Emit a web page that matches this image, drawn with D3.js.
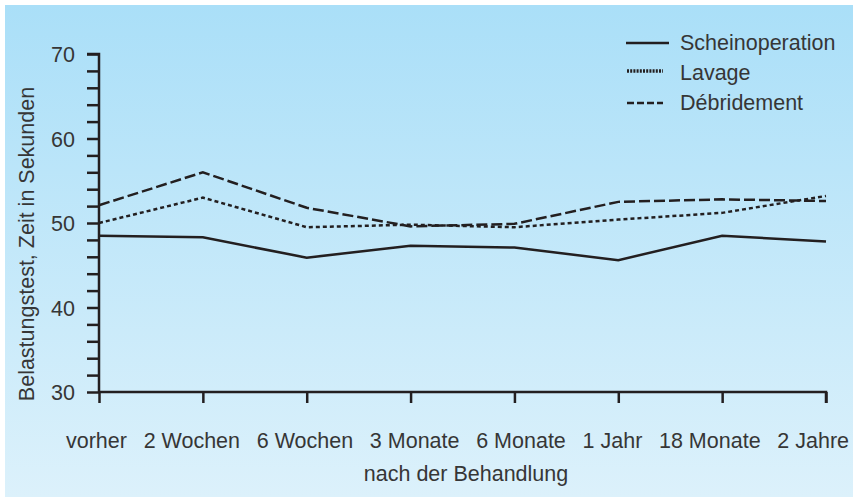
<!DOCTYPE html>
<html>
<head>
<meta charset="utf-8">
<script src="https://cdn.jsdelivr.net/npm/d3@7"></script>
<style>
  body { margin: 0; background: #fff; }
  svg { display: block; font-family: "Liberation Sans", Arial, sans-serif; }
</style>
</head>
<body>
<svg width="853" height="502"></svg>
<script>
// categories (time points)
var zeitpunkte = ["vorher", "2 Wochen", "6 Wochen", "3 Monate", "6 Monate", "1 Jahr", "18 Monate", "2 Jahre"];

// series values, seconds
var schein = [48.5, 48.3, 45.9, 47.3, 47.1, 45.6, 48.5, 47.8];
var lavage = [50.0, 53.0, 49.5, 49.8, 49.5, 50.4, 51.2, 53.2];
var debride = [52.1, 56.0, 51.8, 49.6, 49.9, 52.5, 52.8, 52.6];

var yTicks = [30, 40, 50, 60, 70];

var series = [
  {name: "Scheinoperation", values: schein, dash: null},
  {name: "Lavage", values: lavage, dash: "4,3"},
  {name: "Débridement", values: debride, dash: "11,4"}
];

var fs = 21.5,
    textCol = "#363636",
    ink = "#231f20";

var svg = d3.select("svg");

// background gradient
var grad = svg.append("defs").append("linearGradient")
    .attr("id", "bg").attr("x1", 0).attr("y1", 0).attr("x2", 0).attr("y2", 1);
grad.append("stop").attr("offset", "0%").attr("stop-color", "#aadff8");
grad.append("stop").attr("offset", "100%").attr("stop-color", "#dcf1fb");

svg.append("rect")
    .attr("x", 5).attr("y", 5)
    .attr("width", 848).attr("height", 492)
    .attr("fill", "url(#bg)");

var margin = {left: 99, top: 54},
    width = 727,
    height = 338;

var g = svg.append("g")
    .attr("transform", "translate(" + margin.left + "," + margin.top + ")");

var x = d3.scalePoint()
    .domain(zeitpunkte)
    .range([0, width]);

var y = d3.scaleLinear()
    .domain([30, 70])
    .range([height, 0]);

// y axis: minor ticks every 2
var yAxis = g.append("g")
    .call(d3.axisLeft(y).tickValues(d3.range(30, 71, 2)).tickSize(12).tickFormat(""));
yAxis.select(".domain").attr("stroke", ink).attr("stroke-width", 2.5).attr("d", "M0," + height + "V0H-12");
yAxis.selectAll(".tick line").attr("stroke", ink).attr("stroke-width", 2.5);

g.selectAll(".ylab")
    .data(yTicks)
    .enter().append("text")
    .attr("class", "ylab")
    .attr("x", -24)
    .attr("y", function(d) { return y(d); })
    .attr("dy", "0.38em")
    .attr("text-anchor", "end")
    .attr("font-size", fs)
    .attr("fill", textCol)
    .text(function(d) { return d; });

// x axis
var xAxis = g.append("g")
    .attr("transform", "translate(0," + height + ")")
    .call(d3.axisBottom(x).tickSize(11).tickFormat(""));
xAxis.select(".domain").attr("stroke", ink).attr("stroke-width", 2.5).attr("d", "M0,0H" + width + "V11");
xAxis.selectAll(".tick line").attr("stroke", ink).attr("stroke-width", 2.5);

// x labels: laid out in one row with equal gaps, like the original
var xl = g.selectAll(".xlab")
    .data(zeitpunkte)
    .enter().append("text")
    .attr("class", "xlab")
    .attr("y", height + 56)
    .attr("font-size", fs)
    .attr("fill", textCol)
    .text(function(d) { return d; });
var widths = [];
xl.each(function() { widths.push(this.getComputedTextLength()); });
var left = x(zeitpunkte[0]) - 33,
    right = x(zeitpunkte[zeitpunkte.length - 1]) + 23,
    gap = (right - left - d3.sum(widths)) / (widths.length - 1),
    pos = left;
xl.attr("x", function(d, i) { var p = pos; pos += widths[i] + gap; return p; });

// axis titles
svg.append("text")
    .attr("x", 466).attr("y", 481)
    .attr("text-anchor", "middle")
    .attr("font-size", fs)
    .attr("fill", textCol)
    .text("nach der Behandlung");

svg.append("text")
    .attr("transform", "translate(34,244) rotate(-90)")
    .attr("text-anchor", "middle")
    .attr("font-size", fs)
    .attr("fill", textCol)
    .text("Belastungstest, Zeit in Sekunden");

// lines
var line = d3.line()
    .x(function(d, i) { return x(zeitpunkte[i]); })
    .y(function(d) { return y(d); });

g.selectAll(".series")
    .data(series)
    .enter().append("path")
    .attr("class", "series")
    .attr("d", function(s) { return line(s.values); })
    .attr("fill", "none")
    .attr("stroke", ink)
    .attr("stroke-width", 2.5)
    .attr("stroke-dasharray", function(s) { return s.dash; });

// legend
var legDash = [null, "2,1.2", "7,3"];
var legLen = [43, 37, 37];
var leg = svg.append("g").attr("transform", "translate(626,43)");
var item = leg.selectAll(".leg")
    .data(series)
    .enter().append("g")
    .attr("transform", function(d, i) { return "translate(0," + (i * 30) + ")"; });
item.append("line")
    .attr("x1", function(d, i) { return i ? 1 : 0; })
    .attr("x2", function(d, i) { return legLen[i]; })
    .attr("y1", function(d, i) { return i == 1 ? -2 : 0; })
    .attr("y2", function(d, i) { return i == 1 ? -2 : 0; })
    .attr("stroke", ink)
    .attr("stroke-width", function(d, i) { return i == 1 ? 3.5 : 2.5; })
    .attr("stroke-dasharray", function(d, i) { return legDash[i]; });
item.append("text")
    .attr("x", 54)
    .attr("y", 7)
    .attr("font-size", fs)
    .attr("fill", textCol)
    .text(function(d) { return d.name; });
</script>
</body>
</html>
